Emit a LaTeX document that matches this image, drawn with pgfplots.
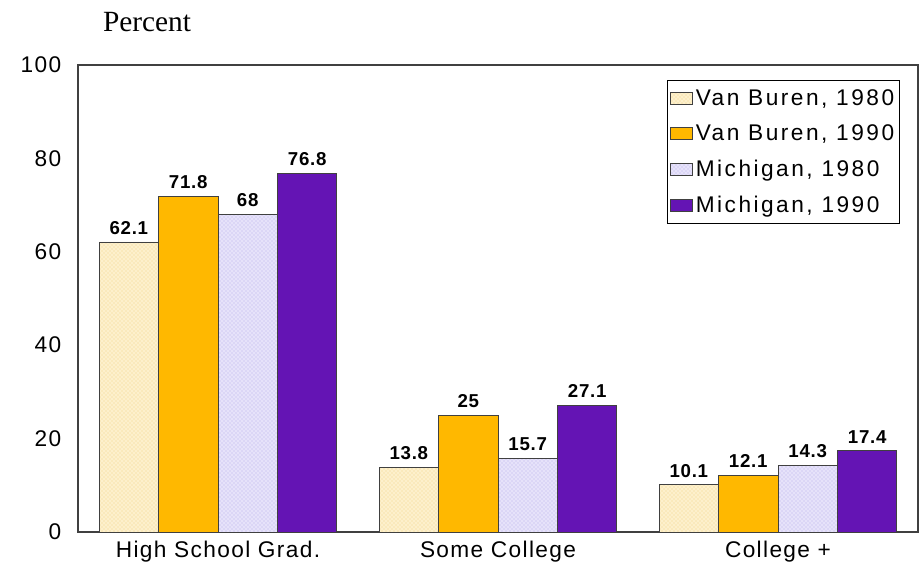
\documentclass[border=0pt]{standalone}
\usepackage{fontspec}
\setmainfont{Liberation Sans}
\newfontfamily\seriffont{Liberation Serif}
\usepackage{pgfplots}
\pgfplotsset{compat=1.18}
\usetikzlibrary{patterns}
\definecolor{vb80}{HTML}{FDF0CC}
\definecolor{vb80dot}{HTML}{F2D488}
\definecolor{vb90}{HTML}{FFB800}
\definecolor{mi80}{HTML}{E6E2FA}
\definecolor{mi80dot}{HTML}{B8B0EC}
\definecolor{mi90}{HTML}{6414B4}
\definecolor{axgray}{HTML}{404040}
\begin{document}
\begin{tikzpicture}
\useasboundingbox (-58.5pt,-30.75pt) rectangle (634.5pt,399pt);
\begin{axis}[
  at={(0,0)}, anchor=south west,
  scale only axis, width=630pt, height=350.25pt,
  ybar=0pt, bar width=44.6pt,
  xmin=-0.5, xmax=2.5, ymin=0, ymax=100,
  xtick={0,1,2}, xticklabels={High School Grad.,Some College,College +},
  ytick={0,20,40,60,80,100},
  major tick length=0pt,
  axis line style={axgray, line width=1.1pt},
  tick label style={font=\addfontfeatures{LetterSpace=6}\fontsize{17}{20}\selectfont},
  /pgf/number format/assume math mode=true,
  yticklabel style={xshift=-9pt},
  xticklabel style={yshift=-3pt},
  nodes near coords,
  every node near coord/.append style={font=\bfseries\addfontfeatures{LetterSpace=4}\fontsize{14}{16}\selectfont, yshift=2pt},
  legend style={at={(0.9786,0.968)}, anchor=north east, draw=black, line width=0.8pt,
    font=\addfontfeatures{LetterSpace=11}\fontsize{17}{20}\selectfont,
    inner xsep=2pt, inner ysep=5pt, row sep=9pt,
    cells={anchor=west}},
  legend image code/.code={\draw[#1, line width=0.8pt] (0pt,-4.5pt) rectangle (16.5pt,4.5pt);},
  legend cell align=left,
]
\addplot[draw=black!75, line width=0.7pt, fill=vb80, postaction={pattern=crosshatch dots, pattern color=vb80dot}] coordinates {(0,62.1) (1,13.8) (2,10.1)};
\addplot[draw=black!75, line width=0.7pt, fill=vb90] coordinates {(0,71.8) (1,25) (2,12.1)};
\addplot[draw=black!75, line width=0.7pt, fill=mi80, postaction={pattern=crosshatch dots, pattern color=mi80dot}] coordinates {(0,68) (1,15.7) (2,14.3)};
\addplot[draw=black!75, line width=0.7pt, fill=mi90] coordinates {(0,76.8) (1,27.1) (2,17.4)};
\legend{Van Buren{,} 1980, Van Buren{,} 1990, Michigan{,} 1980, Michigan{,} 1990}
\end{axis}
\node[font=\seriffont\fontsize{22}{24}\selectfont] at (51.75pt,382.25pt) {Percent};
\end{tikzpicture}
\end{document}
